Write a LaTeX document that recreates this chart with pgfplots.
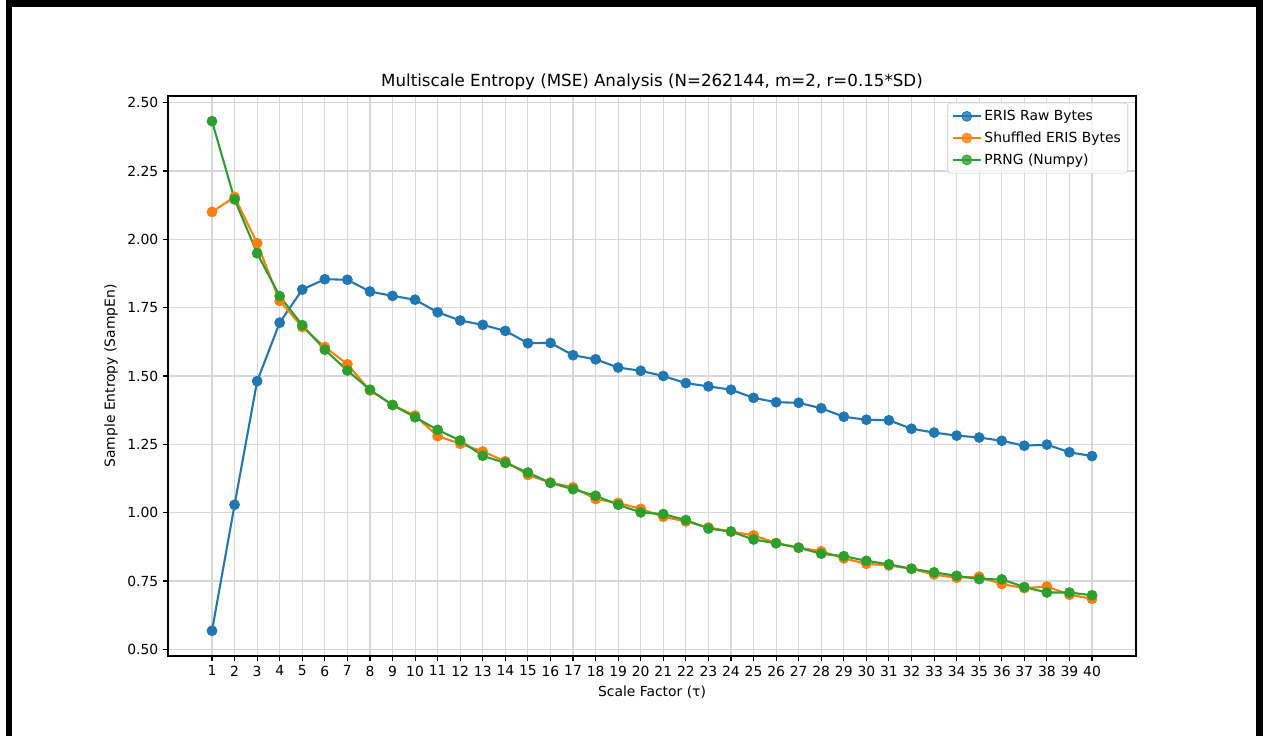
\documentclass[border=0pt]{standalone}
\usepackage{fontspec}
\setmainfont{DejaVu Sans}
\usepackage{pgfplots}
\pgfplotsset{compat=1.18}
\definecolor{C0}{HTML}{1F77B4}
\definecolor{C1}{HTML}{FF7F0E}
\definecolor{C2}{HTML}{2CA02C}
\definecolor{gridc}{HTML}{D8D8D8}
\definecolor{legc}{HTML}{CCCCCC}
\begin{document}
\begin{tikzpicture}
\path[use as bounding box] (0pt,0pt) rectangle (909.36pt,529.92pt);
\fill[white] (0pt,0pt) rectangle (909.36pt,529.92pt);
% frame
\fill[black] (4.32pt,524.88pt) rectangle (909.36pt,529.92pt);
\fill[black] (4.32pt,0pt) rectangle (8.64pt,529.92pt);
\fill[black] (904.32pt,0pt) rectangle (909.36pt,529.92pt);
\begin{axis}[
  at={(120.96pt,57.6pt)}, anchor=south west,
  scale only axis, width=696.96pt, height=403.2pt,
  xmin=-0.95, xmax=41.95, ymin=0.4758, ymax=2.5242,
  xtick={1,2,...,40},
  ytick={0.5,0.75,1.0,1.25,1.5,1.75,2.0,2.25,2.5},
  yticklabel style={/pgf/number format/.cd, fixed, fixed zerofill, precision=2},
  /pgf/number format/assume math mode=true,
  tick label style={font=\fontsize{10}{12}\selectfont},
  tick align=outside, major tick length=3.5pt,
  xtick pos=left, ytick pos=left,
  every tick/.style={black, line width=0.8pt},
  axis line style={line width=0.8pt},
  grid=major,
  major grid style={gridc, line width=0.8pt},
  title={Multiscale Entropy (MSE) Analysis (N=262144, m=2, r=0.15*SD)},
  title style={font=\fontsize{12}{14}\selectfont, at={(0.5,1)}, anchor=base, yshift=0.5pt},
  xlabel={Scale Factor (τ)},
  ylabel={Sample Entropy (SampEn)},
  label style={font=\fontsize{10}{12}\selectfont},
  legend style={at={(1,1)}, anchor=north east, xshift=-5.76pt, yshift=-5pt,
    draw=legc, rounded corners=2pt, fill=white, fill opacity=0.8, text opacity=1,
    font=\fontsize{10}{12}\selectfont, row sep=2.6pt, inner sep=3pt},
  legend cell align=left,
  legend image code/.code={\draw[mark repeat=2,mark phase=2] plot coordinates {(0cm,0cm) (0.35cm,0cm) (0.7cm,0cm)};},
]
\addplot[C0, line width=1.5pt, mark=*, mark size=3.6pt, mark options={fill=C0, draw=C0, line width=0.5pt}] coordinates {
(1,0.568) (2,1.029) (3,1.481) (4,1.695) (5,1.816) (6,1.854) (7,1.852) (8,1.809) (9,1.793) (10,1.779)
(11,1.733) (12,1.703) (13,1.687) (14,1.665) (15,1.620) (16,1.621) (17,1.576) (18,1.561) (19,1.531) (20,1.519)
(21,1.500) (22,1.474) (23,1.462) (24,1.450) (25,1.420) (26,1.404) (27,1.402) (28,1.382) (29,1.351) (30,1.340)
(31,1.338) (32,1.307) (33,1.293) (34,1.282) (35,1.275) (36,1.263) (37,1.245) (38,1.249) (39,1.221) (40,1.207)
};
\addlegendentry{ERIS Raw Bytes}
\addplot[C1, line width=1.5pt, mark=*, mark size=3.6pt, mark options={fill=C1, draw=C1, line width=0.5pt}] coordinates {
(1,2.100) (2,2.155) (3,1.986) (4,1.775) (5,1.679) (6,1.606) (7,1.543) (8,1.447) (9,1.394) (10,1.355)
(11,1.280) (12,1.252) (13,1.224) (14,1.188) (15,1.138) (16,1.110) (17,1.093) (18,1.050) (19,1.036) (20,1.014)
(21,0.985) (22,0.968) (23,0.946) (24,0.931) (25,0.917) (26,0.889) (27,0.872) (28,0.859) (29,0.833) (30,0.813)
(31,0.807) (32,0.795) (33,0.774) (34,0.762) (35,0.766) (36,0.739) (37,0.724) (38,0.730) (39,0.700) (40,0.685)
};
\addlegendentry{Shuffled ERIS Bytes}
\addplot[C2, line width=1.5pt, mark=*, mark size=3.6pt, mark options={fill=C2, draw=C2, line width=0.5pt}] coordinates {
(1,2.432) (2,2.146) (3,1.949) (4,1.792) (5,1.686) (6,1.596) (7,1.520) (8,1.450) (9,1.394) (10,1.349)
(11,1.303) (12,1.264) (13,1.208) (14,1.182) (15,1.147) (16,1.109) (17,1.086) (18,1.062) (19,1.029) (20,1.001)
(21,0.995) (22,0.973) (23,0.942) (24,0.931) (25,0.902) (26,0.888) (27,0.872) (28,0.850) (29,0.841) (30,0.824)
(31,0.811) (32,0.795) (33,0.782) (34,0.769) (35,0.757) (36,0.756) (37,0.728) (38,0.708) (39,0.708) (40,0.698)
};
\addlegendentry{PRNG (Numpy)}
\end{axis}
\end{tikzpicture}
\end{document}
